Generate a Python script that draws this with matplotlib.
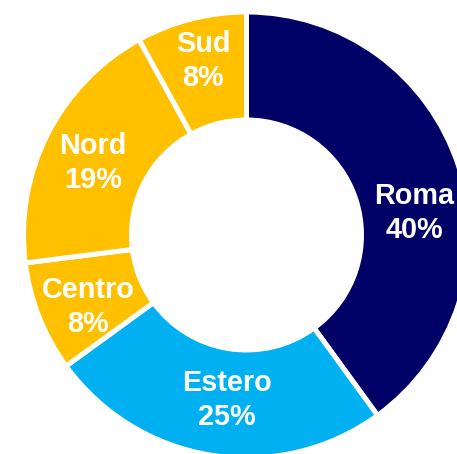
import matplotlib
matplotlib.use('Agg')
import matplotlib.pyplot as plt

labels = ['Roma', 'Estero', 'Centro', 'Nord', 'Sud']
values = [40, 25, 8, 19, 8]
colors = ['#000066', '#00B0F0', '#FFC000', '#FFC000', '#FFC000']

# label centres in pixel coords (y from top)
label_pos = [(414, 213), (227, 400), (88, 307), (93, 163), (203, 61)]

W, H = 457, 454
fig = plt.figure(figsize=(W / 100, H / 100), dpi=100)
ax = fig.add_axes([0, 0, 1, 1])

cx, cy = 246.5, H - 235
R, r = 223, 115
ax.pie(values, colors=colors, startangle=90, counterclock=False,
       center=(cx, cy), radius=R,
       wedgeprops=dict(width=R - r, edgecolor='white', linewidth=3.6))

for lab, v, (x, y) in zip(labels, values, label_pos):
    ax.text(x, H - y, f'{lab}\n{v}%', ha='center', va='center',
            color='white', fontsize=20.8, fontweight='bold',
            family='Liberation Sans', linespacing=1.3)

ax.set_xlim(0, W)
ax.set_ylim(0, H)
ax.set_aspect('equal')
ax.axis('off')
fig.savefig('out.png', dpi=100)
